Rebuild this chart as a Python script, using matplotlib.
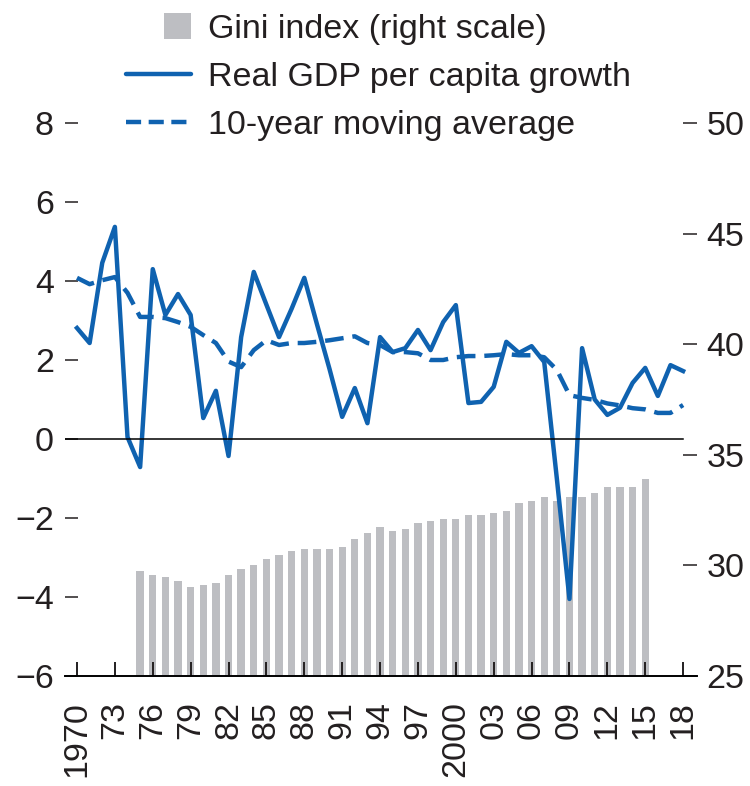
import numpy as np
import matplotlib
matplotlib.use('Agg')
import matplotlib.pyplot as plt
from matplotlib.patches import Rectangle
from matplotlib.lines import Line2D
from matplotlib.legend_handler import HandlerPatch

plt.rcParams['font.family'] = ['Liberation Sans', 'DejaVu Sans']

# data
years = list(range(1970, 2019))
growth = [2.81, 2.43, 4.46, 5.37, 0.05, -0.71, 4.30, 3.14, 3.67, 3.14,
          0.53, 1.22, -0.43, 2.58, 4.23, 3.40, 2.58, 3.30, 4.08, 2.91,
          1.77, 0.56, 1.29, 0.40, 2.58, 2.20, 2.30, 2.76, 2.25, 2.96,
          3.39, 0.91, 0.94, 1.32, 2.46, 2.18, 2.35, 1.95, -1.00, -4.05,
          2.30, 1.00, 0.61, 0.79, 1.42, 1.80, 1.09, 1.87, 1.72]
moving_avg = [4.08, 3.92, 4.02, 4.10, 3.70, 3.09, 3.09, 3.06, 2.96, 2.84,
              2.63, 2.43, 1.96, 1.82, 2.25, 2.50, 2.38, 2.43, 2.43, 2.46,
              2.50, 2.55, 2.60, 2.43, 2.38, 2.20, 2.20, 2.17, 2.00, 2.00,
              2.07, 2.10, 2.10, 2.12, 2.15, 2.12, 2.12, 2.07, 1.75, 1.11,
              1.04, 0.99, 0.90, 0.85, 0.78, 0.75, 0.66, 0.66, 0.86]
gini_years = list(range(1975, 2016))
gini = [29.76, 29.58, 29.49, 29.31, 29.04, 29.13, 29.22, 29.58, 29.85, 30.03,
        30.30, 30.48, 30.66, 30.75, 30.75, 30.75, 30.85, 31.21, 31.48, 31.75,
        31.57, 31.66, 31.93, 32.02, 32.11, 32.11, 32.29, 32.29, 32.38, 32.47,
        32.83, 32.92, 33.10, 32.92, 33.10, 33.10, 33.29, 33.56, 33.56, 33.56,
        33.90]
xtick_years = list(range(1970, 2019, 3))
xtick_labels = ['1970', '73', '76', '79', '82', '85', '88', '91', '94', '97',
                '2000', '03', '06', '09', '12', '15', '18']

blue = '#0f62b0'
grey = '#bdbec2'
txt = '#231f20'
fs = 24.5
lw = 3.2


class SquareHandler(HandlerPatch):
    # grey square sitting at the right end of the handle box
    def create_artists(self, legend, orig_handle, xdescent, ydescent,
                       width, height, fontsize, trans):
        s = height * 1.1
        p = Rectangle((-xdescent + width - s, -ydescent + (height - s) / 2), s, s,
                      facecolor=grey, edgecolor='none', transform=trans)
        return [p]


fig = plt.figure(figsize=(7.5, 7.86), dpi=100)
ax = fig.add_axes([65 / 750, 110 / 786, 632 / 750, 553 / 786])
ax2 = ax.twinx()

ax2.bar(gini_years, gini, width=0.58, color=grey, bottom=0)
ax.plot(years, growth, color=blue, lw=lw)
ax.plot(years, moving_avg, color=blue, lw=lw, dashes=(4.2, 2.0))
ax.axhline(0, xmax=0.978, color='black', lw=1.1)

ax.set_zorder(ax2.get_zorder() + 1)
ax.patch.set_visible(False)

ax.set_xlim(1969.05, 2019.1)
ax.set_ylim(-6, 8)
ax2.set_ylim(25, 50)
ax.set_yticks(range(-6, 9, 2))
ax.set_yticklabels([str(v).replace('-', '\u2212') for v in range(-6, 9, 2)])
ax2.set_yticks(range(25, 51, 5))
ax.set_xticks(xtick_years)
ax.set_xticklabels(xtick_labels, rotation=90)

for a in (ax, ax2):
    for side in ('top', 'left', 'right'):
        a.spines[side].set_visible(False)
ax2.spines['bottom'].set_visible(False)
ax.spines['bottom'].set_linewidth(1.4)

ax.tick_params(axis='y', direction='in', length=9.5, width=1.1, pad=8,
               labelsize=fs, colors=txt, left=True)
ax.tick_params(axis='x', direction='in', length=10, width=1.4, pad=18,
               labelsize=fs, colors=txt)
ax2.tick_params(axis='y', direction='in', length=10, width=1.1, pad=7,
                labelsize=fs, colors=txt)

handles = [Rectangle((0, 0), 1, 1, color=grey),
           Line2D([], [], color=blue, lw=lw, solid_capstyle='round'),
           Line2D([], [], color=blue, lw=lw, dashes=(3.4, 1.7))]
labels = ['Gini index (right scale)', 'Real GDP per capita growth',
          '10-year moving average']
leg = fig.legend(handles, labels, loc='upper left',
                 bbox_to_anchor=(126 / 750, 1 - 14 / 786), frameon=False,
                 fontsize=fs, handlelength=1.9, handletextpad=0.5,
                 labelspacing=0.5, borderpad=0, borderaxespad=0,
                 handler_map={Rectangle: SquareHandler()})
for t in leg.get_texts():
    t.set_color(txt)

fig.savefig('out.png', dpi=100)
